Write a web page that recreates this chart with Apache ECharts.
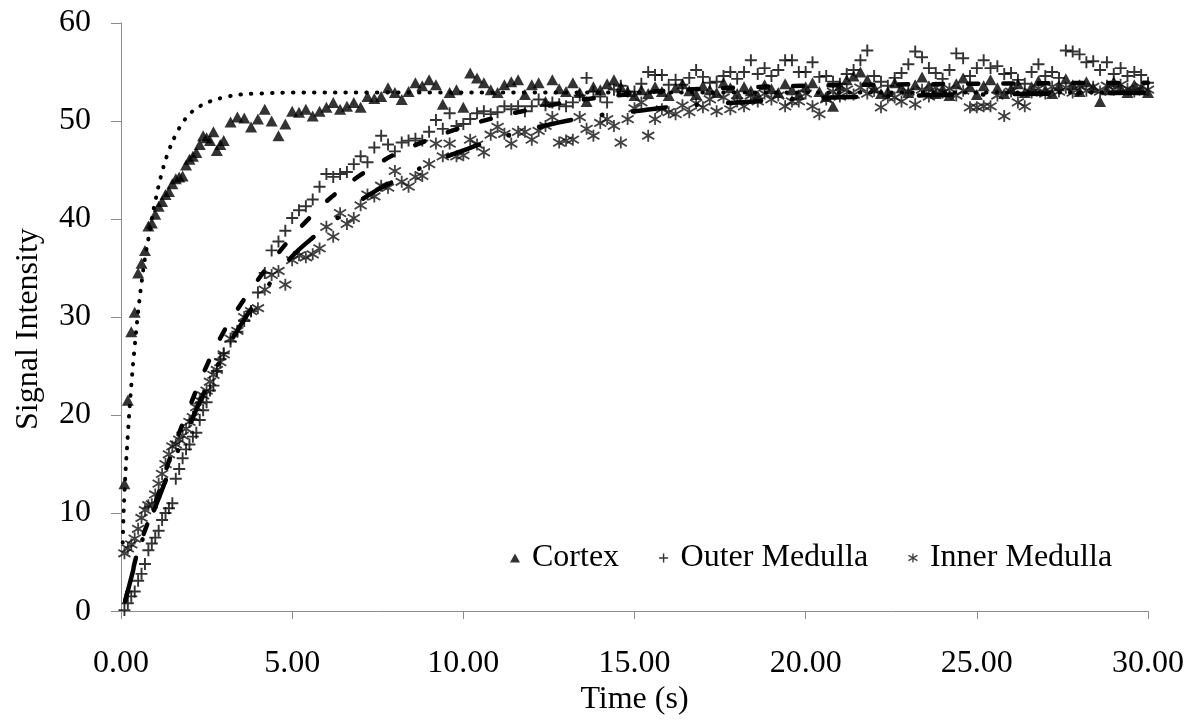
<!DOCTYPE html>
<html>
<head>
<meta charset="utf-8">
<title>Signal Intensity vs Time</title>
<script src="https://cdn.jsdelivr.net/npm/echarts@6/dist/echarts.min.js"></script>
<style>
  html, body { margin: 0; padding: 0; background: #fff; }
  #chart { width: 1198px; height: 721px; }
</style>
</head>
<body>
<div id="chart"></div>
<script>
// sample times (s)
var earlyTimes = [0.1, 0.2, 0.3, 0.4, 0.5, 0.6, 0.7, 0.8, 0.9, 1.0,
    1.1, 1.2, 1.3, 1.4, 1.5, 1.6, 1.7, 1.8, 1.9, 2.0,
    2.1, 2.2, 2.3, 2.4, 2.5, 2.6, 2.7, 2.8, 2.9, 3.0];
var lateTimes = [3.2, 3.4, 3.6, 3.8, 4.0, 4.2, 4.4, 4.6, 4.8, 5.0,
    5.2, 5.4, 5.6, 5.8, 6.0, 6.2, 6.4, 6.6, 6.8, 7.0,
    7.2, 7.4, 7.6, 7.8, 8.0,
    8.2, 8.4, 8.6, 8.8, 9.0, 9.2, 9.4, 9.6, 9.8, 10.0,
    10.2, 10.4, 10.6, 10.8, 11.0, 11.2, 11.4, 11.6, 11.8, 12.0,
    12.2, 12.4, 12.6, 12.8, 13.0, 13.2, 13.4, 13.6, 13.8, 14.0,
    14.2, 14.4, 14.6, 14.8, 15.0, 15.2, 15.4, 15.6, 15.8, 16.0,
    16.2, 16.4, 16.6, 16.8, 17.0, 17.2, 17.4, 17.6, 17.8, 18.0,
    18.2, 18.4, 18.6, 18.8, 19.0, 19.2, 19.4, 19.6, 19.8, 20.0,
    20.2, 20.4, 20.6, 20.8, 21.0, 21.2, 21.4, 21.6, 21.8, 22.0,
    22.2, 22.4, 22.6, 22.8, 23.0, 23.2, 23.4, 23.6, 23.8, 24.0,
    24.2, 24.4, 24.6, 24.8, 25.0, 25.2, 25.4, 25.6, 25.8, 26.0,
    26.2, 26.4, 26.6, 26.8, 27.0, 27.2, 27.4, 27.6, 27.8, 28.0,
    28.2, 28.4, 28.6, 28.8, 29.0, 29.2, 29.4, 29.6, 29.8, 30.0];

// cortex (triangles)
var cortexEarly = [13, 21.5, 28.5, 30.5, 34.5, 35.5, 36.8, 39.3, 39.6, 40.5,
    41.3, 41.8, 42.5, 42.8, 43.6, 44.1, 44.3, 44.4, 45.5, 46.1,
    46.4, 46.8, 47.6, 48.5, 48.3, 48.0, 48.9, 47.0, 47.6, 48.0];
var cortexLate = [49.9, 50.4, 50.3, 49.4, 50.2, 51.2, 50.0, 48.5, 49.7, 51.0,
    50.9, 51.2, 50.5, 51.0, 51.4, 51.9, 51.2, 51.5, 51.9, 51.4,
    52.5, 52.3, 52.5, 53.4, 52.9,
    52.2, 53.0, 53.9, 53.6, 54.2, 53.7, 51.7, 52.9, 53.2, 51.4,
    54.9, 54.4, 53.9, 53.2, 52.9, 53.7, 54.0, 54.2, 52.7, 53.7,
    53.9, 52.0, 54.2, 53.3, 53.0, 53.9, 52.9, 52.0, 53.5, 53.2,
    53.8, 54.2, 53.5, 53.0, 52.6, 53.2, 52.8, 53.5, 53.0, 52.6,
    53.4, 53.8, 53.1, 52.7, 53.6, 53.2, 52.9, 53.9, 53.4, 52.8,
    53.5, 53.1, 52.6, 53.7, 53.3, 52.9, 53.8, 53.2, 52.7, 53.5,
    53.9, 53.0, 52.5, 51.5, 53.6, 54.2, 54.6, 55.0, 54.2, 53.4,
    52.8, 53.0, 53.9, 53.4, 52.9, 53.7, 54.5, 53.6, 52.8, 53.3,
    52.6, 53.8, 54.4, 53.5, 52.7, 53.6, 54.2, 53.4, 52.8, 53.3,
    53.8, 52.9, 53.5, 54.1, 53.2, 52.8, 53.6, 54.3, 53.7, 53.0,
    54.0, 53.4, 52.0, 53.2, 54.0, 53.4, 52.9, 53.7, 53.2, 52.9];

// outer medulla (plus)
var outerEarly = [0.1, 0.8, 1.5, 2.0, 3.1, 3.8, 4.8, 6.2, 6.9, 7.5,
    8.2, 9.3, 10.0, 10.5, 11.0, 13.5, 14.5, 15.6, 16.5, 17.0,
    17.8, 18.2, 19.5, 20.5, 21.3, 22.5, 23.0, 24.5, 25.7, 26.3];
var outerLate = [27.5, 28.5, 29.6, 30.6, 32.5, 34.5, 36.8, 37.7, 38.8, 40.1,
    40.9, 41.3, 42.0, 43.3, 44.6, 44.3, 44.6, 44.8, 45.6, 46.4,
    45.8, 47.3, 48.5, 47.6, 46.9,
    47.8, 48.0, 48.2, 48.0, 48.9, 50.1, 49.2, 50.8, 49.5, 49.7,
    50.2, 50.8, 51.0, 50.7, 50.9, 51.5, 51.2, 51.5, 51.0, 51.5,
    52.2, 51.6, 51.9, 51.7, 51.5, 51.9, 52.6, 54.4, 53.0, 52.5,
    51.9, 53.2, 53.6, 53.0, 53.0, 53.8, 55.0, 54.7, 54.7, 53.7,
    54.2, 53.7, 54.4, 55.2, 54.5, 53.9, 54.0, 54.6, 55.0, 54.3,
    55.0, 56.2, 54.8, 55.4, 54.6, 55.2, 56.2, 56.2, 55.0, 55.0,
    56.0, 54.5, 54.6, 54.0, 53.8, 54.8, 55.2, 56.2, 57.2, 54.6,
    54.0, 53.6, 54.4, 54.9, 55.8, 57.1, 56.5, 55.4, 54.9, 54.3,
    55.2, 56.9, 56.4, 54.6, 55.4, 56.2, 55.4, 55.6, 54.8, 54.9,
    54.2, 53.8, 55.0, 55.8, 54.6, 55.0, 54.4, 57.2, 57.1, 56.8,
    56.0, 56.1, 55.2, 56.0, 54.8, 55.4, 54.6, 55.0, 54.7, 53.9];

// inner medulla (asterisk)
var innerEarly = [5.9, 6.4, 6.8, 7.4, 8.4, 9.5, 10.3, 10.8, 10.9, 11.9,
    13.0, 14.0, 15.0, 16.0, 16.8, 17.0, 17.5, 17.9, 18.6, 19.3,
    19.8, 20.8, 21.5, 22.0, 22.5, 23.4, 24.1, 24.6, 25.4, 26.2];
var innerLate = [27.8, 28.6, 30.0, 30.6, 30.9, 32.8, 34.3, 34.7, 33.3, 35.8,
    36.3, 36.1, 36.4, 37.0, 39.2, 38.2, 40.6, 39.5, 40.1, 41.4,
    42.5, 42.3, 43.4, 43.2, 44.9,
    43.8, 43.3, 44.3, 44.4, 45.6, 47.7, 46.4, 47.7, 46.4, 46.5,
    48.1, 47.6, 46.8, 48.6, 49.4, 48.7, 47.7, 48.9, 48.9, 48.1,
    49.0, 49.5, 50.4, 47.8, 48.0, 48.1, 50.4, 49.2, 48.5, 49.8,
    50.2, 49.5, 47.8, 50.2, 51.3, 51.9, 48.5, 50.2, 51.2, 50.9,
    50.7, 51.6, 50.9, 51.8, 51.4, 52.2, 51.0, 52.4, 51.2, 52.0,
    51.5, 52.6, 52.0, 52.8, 52.2, 52.6, 51.5, 52.0, 52.0, 52.8,
    51.5, 50.7, 52.2, 53.0, 52.5, 53.2, 52.7, 53.4, 52.8, 53.1,
    51.4, 52.4, 52.4, 52.0, 53.0, 51.7, 53.2, 52.5, 53.4, 52.9,
    53.3, 52.6, 53.1, 51.4, 51.4, 51.5, 51.5, 52.6, 50.5, 53.0,
    51.9, 51.5, 52.9, 53.3, 52.8, 53.5, 53.0, 53.4, 52.9, 53.6,
    53.1, 53.5, 53.0, 53.6, 53.2, 53.7, 53.3, 53.0, 53.5, 53.2];

// fitted curves, [time, value]
var cortexFit = [[0.05, 7], [0.1, 12], [0.2, 18], [0.3, 23], [0.4, 27], [0.5, 30.5],
    [0.6, 33.5], [0.7, 36], [0.8, 38], [0.9, 40], [1.0, 41.8], [1.2, 44.8],
    [1.4, 47], [1.6, 48.6], [1.8, 49.8], [2.0, 50.7], [2.3, 51.5], [2.6, 52],
    [3.0, 52.4], [3.5, 52.7], [4, 52.8], [5, 52.9], [8, 52.9], [12, 52.9],
    [18, 52.9], [24, 52.9], [30, 52.9]];
var outerFit = [[0.12, 1], [0.3, 3.5], [0.5, 6.2], [0.75, 8.7], [1, 11], [1.5, 16.3],
    [2, 20.8], [2.5, 25], [3, 28.5], [3.5, 31.3], [4, 33.8], [4.5, 36.1],
    [5, 38.2], [5.5, 40.1], [6, 41.8], [6.5, 43.2], [7, 44.5], [7.5, 45.6],
    [8, 46.6], [9, 48.1], [10, 49.4], [11, 50.4], [12, 51.2], [13, 51.9],
    [14, 52.4], [15, 52.8], [16, 53.1], [18, 53.4], [20, 53.6], [25, 53.8], [30, 53.9]];
var innerFit = [[0.12, 1], [0.3, 3.4], [0.5, 6], [0.75, 8.4], [1, 10.6], [1.5, 15],
    [2, 19], [2.5, 22.8], [3, 26.2], [3.5, 29.2], [4, 31.8], [4.5, 34.1],
    [5, 36.2], [5.5, 37.8], [6, 39.2], [6.5, 40.6], [7, 41.9], [7.5, 43],
    [8, 43.9], [9, 45.6], [10, 47], [11, 48.2], [12, 49.2], [13, 50],
    [14, 50.6], [15, 51], [16, 51.4], [17, 51.7], [18, 51.9], [19, 52.1],
    [20, 52.3], [22, 52.5], [25, 52.7], [30, 52.9]];

var seriesNames = ['Cortex', 'Outer Medulla', 'Inner Medulla'];

var times = earlyTimes.concat(lateTimes);
var cortex = cortexEarly.concat(cortexLate);
var outer = outerEarly.concat(outerLate);
var inner = innerEarly.concat(innerLate);

function pairs(vals) {
    return vals.map(function (v, i) { return [times[i], v]; });
}

var plusPath = 'path://M4.2,0H5.8V4.2H10V5.8H5.8V10H4.2V5.8H0V4.2H4.2Z';
// asterisk: vertical bar plus two diagonals, same winding so they merge
var starPath = 'path://M4.25,0H5.75V10H4.25Z' +
    'M0.39,1.36L10.39,7.36L9.61,8.64L-0.39,2.64Z' +
    'M-0.39,7.36L9.61,1.36L10.39,2.64L0.39,8.64Z';

var font = 'Liberation Serif';
var chart = echarts.init(document.getElementById('chart'));

var option = {
    animation: false,
    backgroundColor: '#fff',
    grid: { left: 121, right: 50, top: 23, bottom: 105 },
    legend: {
        data: [
            { name: seriesNames[0], icon: 'triangle' },
            { name: seriesNames[1], icon: plusPath },
            { name: seriesNames[2], icon: starPath }
        ],
        left: 505,
        top: 537,
        itemWidth: 10,
        itemHeight: 9,
        itemGap: 40,
        textStyle: { fontFamily: font, fontSize: 32, color: '#000', padding: [0, 0, 0, 7] }
    },
    xAxis: {
        type: 'value',
        min: 0,
        max: 30,
        interval: 5,
        name: 'Time (s)',
        nameLocation: 'middle',
        nameGap: 69,
        nameTextStyle: { fontFamily: font, fontSize: 32, color: '#000' },
        axisLine: { lineStyle: { color: '#8c8c8c', width: 1 } },
        axisTick: { show: true, length: 8, lineStyle: { color: '#8c8c8c' } },
        axisLabel: {
            margin: 36,
            fontFamily: font, fontSize: 32, color: '#000',
            formatter: function (v) { return v.toFixed(2); }
        },
        splitLine: { show: false }
    },
    yAxis: {
        type: 'value',
        min: 0,
        max: 60,
        interval: 10,
        name: 'Signal Intensity',
        nameLocation: 'middle',
        nameGap: 76,
        nameTextStyle: { fontFamily: font, fontSize: 32, color: '#000', padding: [0, 24, 0, 0] },
        axisLine: { show: true, lineStyle: { color: '#8c8c8c', width: 1 } },
        axisTick: { show: true, length: 10, lineStyle: { color: '#8c8c8c' } },
        axisLabel: { margin: 30, fontFamily: font, fontSize: 32, color: '#000' },
        splitLine: { show: false }
    },
    series: [
        {
            name: seriesNames[0],
            type: 'scatter',
            symbol: 'triangle',
            symbolSize: [12, 11],
            itemStyle: { color: '#000' },
            data: pairs(cortex)
        },
        {
            name: seriesNames[1],
            type: 'scatter',
            symbol: plusPath,
            symbolSize: 12,
            itemStyle: { color: '#000' },
            data: pairs(outer)
        },
        {
            name: seriesNames[2],
            type: 'scatter',
            symbol: starPath,
            symbolSize: [13, 12],
            itemStyle: { color: '#111' },
            data: pairs(inner)
        },
        {
            name: 'Cortex fit',
            type: 'line',
            smooth: true,
            showSymbol: false,
            lineStyle: { color: '#000', width: 4, type: [0.5, 10], cap: 'round' },
            data: cortexFit
        },
        {
            name: 'Outer Medulla fit',
            type: 'line',
            smooth: true,
            showSymbol: false,
            lineStyle: { color: '#000', width: 4.5, type: [10, 25], cap: 'round' },
            data: outerFit
        },
        {
            name: 'Inner Medulla fit',
            type: 'line',
            smooth: true,
            showSymbol: false,
            lineStyle: { color: '#000', width: 4.5, type: [33, 31, 0.5, 31], cap: 'round' },
            data: innerFit
        }
    ]
};

chart.setOption(option);
</script>
</body>
</html>
